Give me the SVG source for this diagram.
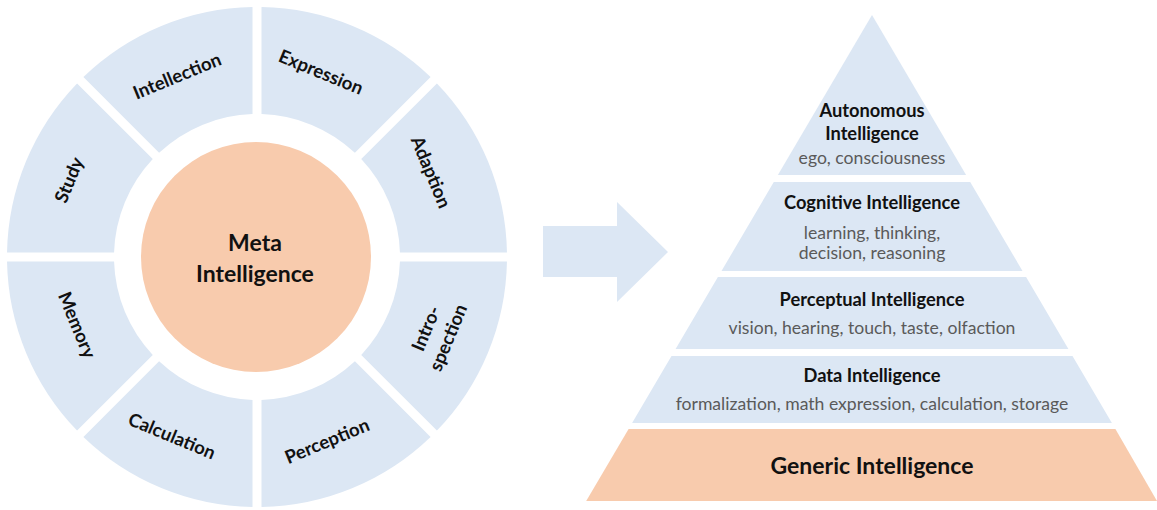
<svg xmlns="http://www.w3.org/2000/svg" width="1157" height="510" viewBox="0 0 1157 510">
<style>
.seg{fill:#dce7f4}
.peach{fill:#f8cbad}
.lbl{font-family:Lato,"Open Sans",sans-serif;font-weight:bold;font-size:18.5px;fill:#111;text-anchor:middle}
.big{font-family:Lato,"Open Sans",sans-serif;font-weight:bold;font-size:23px;fill:#111;text-anchor:middle}
.hd{font-family:Lato,"Open Sans",sans-serif;font-weight:bold;font-size:18.3px;fill:#111;text-anchor:middle}
.sub{font-family:Lato,"Open Sans",sans-serif;font-size:17.6px;fill:#5a5a5a;text-anchor:middle}
</style>
<rect width="1157" height="510" fill="#ffffff"/>
<g id="ring">
<g id="seg-expression"><path class="seg" d="M261.5,7.04 A250,250 0 0 1 430.57,77.07 L354.89,152.75 A143,143 0 0 0 261.5,114.07 Z"/><text class="lbl" transform="translate(321,72) rotate(22.5)" y="6.5">Expression</text></g>
<g id="seg-adaption"><path class="seg" d="M436.93,83.43 A250,250 0 0 1 506.96,252.5 L399.93,252.5 A143,143 0 0 0 361.25,159.11 Z"/><text class="lbl" transform="translate(431,172) rotate(67.5)" y="6.5">Adaption</text></g>
<g id="seg-introspection"><path class="seg" d="M506.96,261.5 A250,250 0 0 1 436.93,430.57 L361.25,354.89 A143,143 0 0 0 399.93,261.5 Z"/><text class="lbl" transform="translate(437,333) rotate(-67.5)"><tspan x="0" y="-5.5">Intro-</tspan><tspan x="0" y="18.5">spection</tspan></text></g>
<g id="seg-perception"><path class="seg" d="M430.57,436.93 A250,250 0 0 1 261.5,506.96 L261.5,399.93 A143,143 0 0 0 354.89,361.25 Z"/><text class="lbl" transform="translate(327,441) rotate(-22.5)" y="6.5">Perception</text></g>
<g id="seg-calculation"><path class="seg" d="M252.5,506.96 A250,250 0 0 1 83.43,436.93 L159.11,361.25 A143,143 0 0 0 252.5,399.93 Z"/><text class="lbl" transform="translate(172,436) rotate(22.5)" y="6.5">Calculation</text></g>
<g id="seg-memory"><path class="seg" d="M77.07,430.57 A250,250 0 0 1 7.04,261.5 L114.07,261.5 A143,143 0 0 0 152.75,354.89 Z"/><text class="lbl" transform="translate(77,325) rotate(67.5)" y="6.5">Memory</text></g>
<g id="seg-study"><path class="seg" d="M7.04,252.5 A250,250 0 0 1 77.07,83.43 L152.75,159.11 A143,143 0 0 0 114.07,252.5 Z"/><text class="lbl" transform="translate(69,180) rotate(-67.5)" y="6.5">Study</text></g>
<g id="seg-intellection"><path class="seg" d="M83.43,77.07 A250,250 0 0 1 252.5,7.04 L252.5,114.07 A143,143 0 0 0 159.11,152.75 Z"/><text class="lbl" transform="translate(177,76) rotate(-22.5)" y="6.5">Intellection</text></g>
</g>
<g id="meta">
<circle class="peach" cx="256" cy="257" r="115"/>
<text class="big" x="255" y="251">Meta</text>
<text class="big" x="255" y="282">Intelligence</text>
</g>
<g id="connectors">
<polygon class="seg" points="543,226 617,226 617,202 668,252 617,302 617,277 543,277"/>
</g>
<g id="pyramid">
<g id="autonomous"><polygon class="seg" points="872,15 966.1,175 777.9,175"/><text class="hd" x="872" y="117">Autonomous</text><text class="hd" x="872" y="140">Intelligence</text><text class="sub" x="872" y="164">ego, consciousness</text></g>
<g id="cognitive"><polygon class="seg" points="773.8,182 970.2,182 1022.5,271 721.5,271"/><text class="hd" x="872" y="209">Cognitive Intelligence</text><text class="sub" x="872" y="239">learning, thinking,</text><text class="sub" x="872" y="259">decision, reasoning</text></g>
<g id="perceptual"><polygon class="seg" points="717.9,277 1026.1,277 1068.4,349 675.6,349"/><text class="hd" x="872" y="306">Perceptual Intelligence</text><text class="sub" x="872" y="334">vision, hearing, touch, taste, olfaction</text></g>
<g id="data"><polygon class="seg" points="671.5,356 1072.5,356 1111.9,423 632.1,423"/><text class="hd" x="872" y="382">Data Intelligence</text><text class="sub" x="872" y="410">formalization, math expression, calculation, storage</text></g>
<g id="generic"><polygon class="peach" points="628.6,429 1115.4,429 1157,501 586.2,501"/><text class="big" x="872" y="474">Generic Intelligence</text></g>
</g>
</svg>
